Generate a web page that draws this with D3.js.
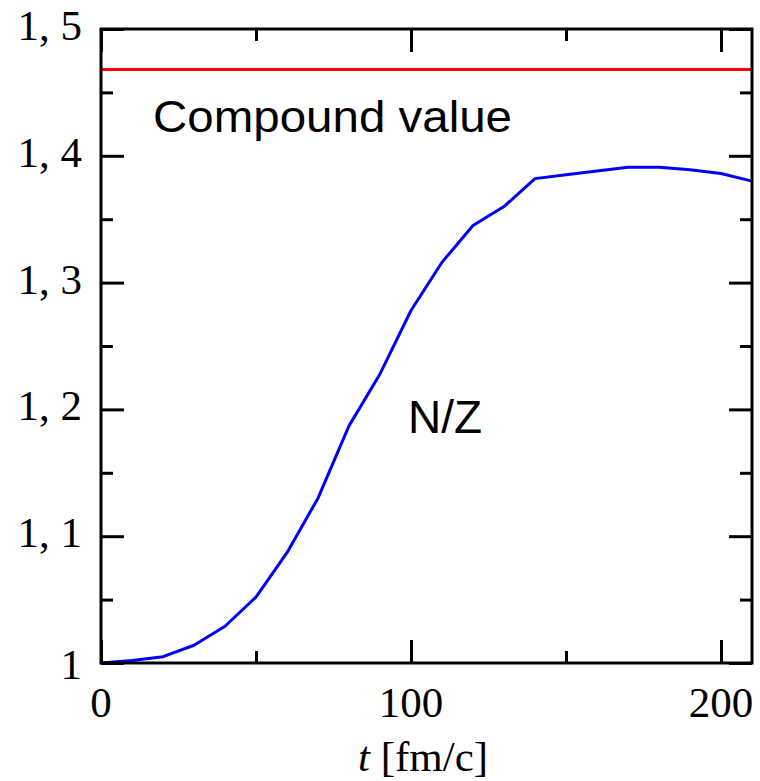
<!DOCTYPE html>
<html>
<head>
<meta charset="utf-8">
<script src="https://cdn.jsdelivr.net/npm/d3@7"></script>
<style>
  html, body { margin: 0; padding: 0; background: #fff; }
  svg { display: block; }
</style>
</head>
<body>
<svg id="chart" width="760" height="781"></svg>
<script>
// Time axis (fm/c) and N/Z ratio of the neck region
const times = [0, 10, 20, 30, 40, 50, 60, 70, 80, 90, 100, 110, 120, 130, 140, 150, 160, 170, 180, 190, 200, 210];
const ratioNZ = [1.000, 1.002, 1.005, 1.014, 1.029, 1.052, 1.087, 1.130, 1.187, 1.228, 1.278, 1.316, 1.345, 1.360, 1.382, 1.385, 1.388, 1.391, 1.391, 1.389, 1.386, 1.380];
const compoundValue = 1.468;

const xMajor = [0, 100, 200];
const xMinor = [50, 150];
const yMajor = [1.0, 1.1, 1.2, 1.3, 1.4, 1.5];
const yMinor = [1.05, 1.15, 1.25, 1.35, 1.45];
const yTickLabels = ["1", "1, 1", "1, 2", "1, 3", "1, 4", "1, 5"];

const svg = d3.select("#chart");
const plotL = 101, plotR = 752, plotT = 29, plotB = 663;

const x = d3.scaleLinear().domain([0, 210]).range([plotL, plotR]);
const y = d3.scaleLinear().domain([1.0, 1.5]).range([plotB, plotT]);

const serif = "'Liberation Serif', 'Times New Roman', serif";
const sans = "'Liberation Sans', Arial, sans-serif";

// inward ticks on all four sides
function tickAxis(gen, values, size, transform) {
  const g = svg.append("g").attr("transform", transform)
    .call(gen.tickValues(values).tickSizeInner(-size).tickSizeOuter(0).tickFormat(""));
  g.select(".domain").remove();
  g.selectAll(".tick line").attr("stroke", "#000").attr("stroke-width", 3);
  return g;
}
tickAxis(d3.axisBottom(x), xMajor, 23, `translate(0,${plotB})`);
tickAxis(d3.axisBottom(x), xMinor, 12, `translate(0,${plotB})`);
tickAxis(d3.axisTop(x), xMajor, 23, `translate(0,${plotT})`);
tickAxis(d3.axisTop(x), xMinor, 12, `translate(0,${plotT})`);
tickAxis(d3.axisLeft(y), yMajor, 23, `translate(${plotL},0)`);
tickAxis(d3.axisLeft(y), yMinor, 12, `translate(${plotL},0)`);
tickAxis(d3.axisRight(y), yMajor, 23, `translate(${plotR},0)`);
tickAxis(d3.axisRight(y), yMinor, 12, `translate(${plotR},0)`);

// compound reference level
svg.append("line")
  .attr("x1", x(0)).attr("x2", x(210))
  .attr("y1", y(compoundValue)).attr("y2", y(compoundValue))
  .attr("stroke", "#ff0000").attr("stroke-width", 3);

// N/Z curve
const line = d3.line().x((d, i) => x(times[i])).y(d => y(d));
svg.append("path")
  .datum(ratioNZ)
  .attr("d", line)
  .attr("fill", "none")
  .attr("stroke", "#0000ff")
  .attr("stroke-width", 3)
  .attr("stroke-linejoin", "round");

// frame
svg.append("rect")
  .attr("x", plotL).attr("y", plotT)
  .attr("width", plotR - plotL).attr("height", plotB - plotT)
  .attr("fill", "none").attr("stroke", "#000").attr("stroke-width", 3);

// tick labels
svg.append("g").selectAll("text").data(yMajor).join("text")
  .attr("x", 82)
  .attr("y", (d, i) => y(d) + (i === 0 ? 16 : 11))
  .attr("text-anchor", "end")
  .attr("font-family", serif).attr("font-size", 43)
  .text((d, i) => yTickLabels[i]);

svg.append("g").selectAll("text").data(xMajor).join("text")
  .attr("x", d => x(d))
  .attr("y", 717)
  .attr("text-anchor", "middle")
  .attr("font-family", serif).attr("font-size", 43)
  .text(d => d);

// axis title
const title = svg.append("text")
  .attr("x", 423).attr("y", 771)
  .attr("text-anchor", "middle")
  .attr("font-family", serif).attr("font-size", 43);
title.append("tspan").attr("font-style", "italic").text("t");
title.append("tspan").text(" [fm/c]");

// annotations
svg.append("text")
  .attr("x", 153).attr("y", 132)
  .attr("font-family", sans).attr("font-size", 44)
  .attr("textLength", 359).attr("lengthAdjust", "spacingAndGlyphs")
  .text("Compound value");

svg.append("text")
  .attr("x", 408).attr("y", 433)
  .attr("font-family", sans).attr("font-size", 46)
  .text("N/Z");
</script>
</body>
</html>
